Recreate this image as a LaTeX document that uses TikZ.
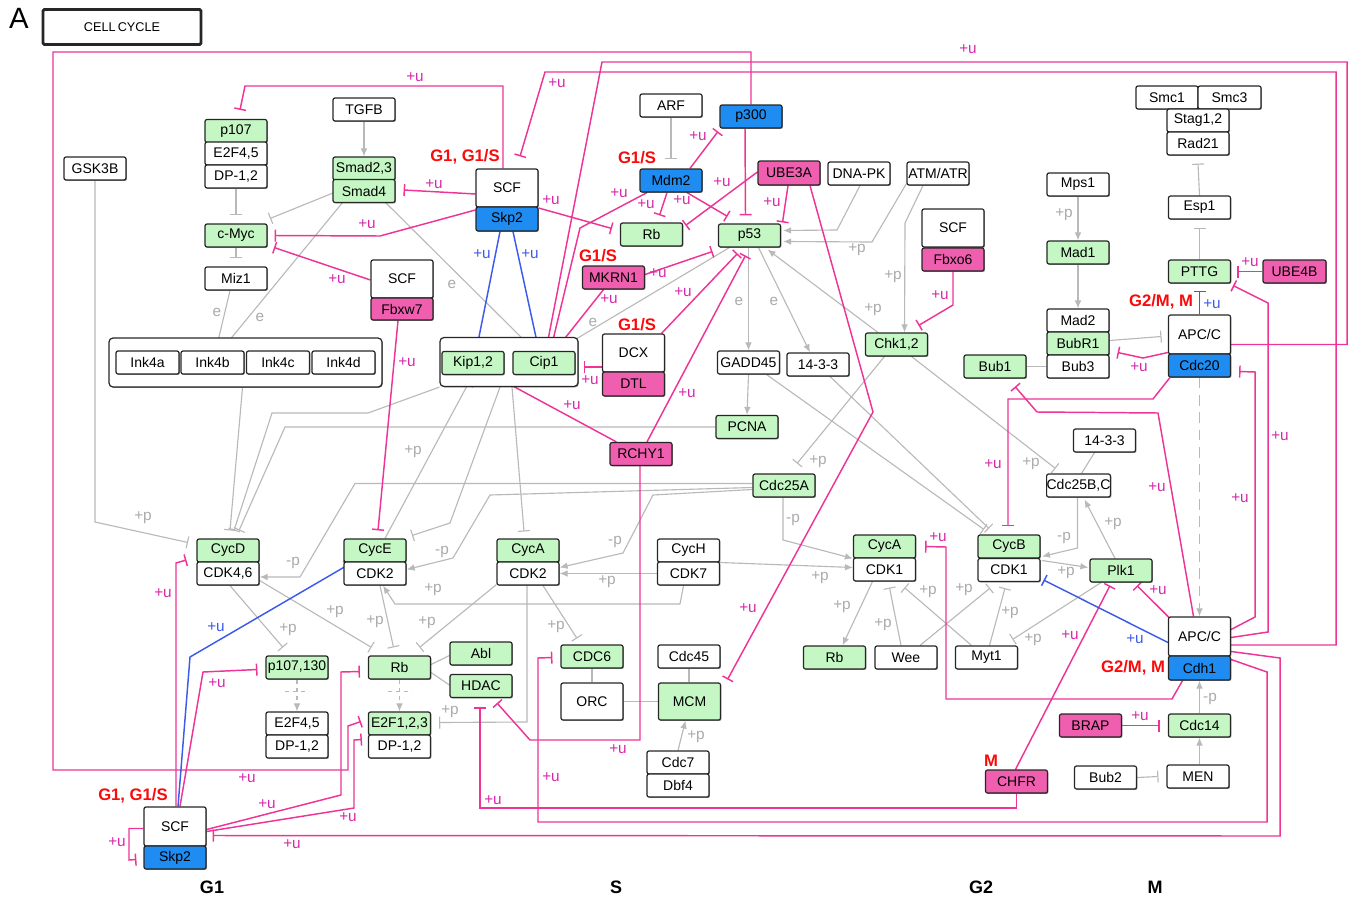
\documentclass[tikz,border=0pt]{standalone}
\usepackage{fontspec}
\setmainfont{Liberation Sans}
\usetikzlibrary{arrows.meta,calc,shadows}
\pgfdeclarelayer{bg}
\pgfsetlayers{bg,main}
\definecolor{pinkline}{RGB}{238,52,150}
\definecolor{pinktxt}{RGB}{214,40,170}
\definecolor{bluel}{RGB}{60,90,235}
\definecolor{greenf}{RGB}{196,247,196}
\definecolor{pinkf}{RGB}{240,95,175}
\definecolor{bluef}{RGB}{30,140,240}
\definecolor{grayl}{RGB}{185,185,185}
\definecolor{grayt}{RGB}{170,170,170}
\definecolor{redl}{RGB}{250,10,10}
\begin{document}
\begin{tikzpicture}[x=0.75pt,y=-0.75pt,
  bx/.style={draw=black!85, line width=0.9pt, rounded corners=1.5pt, minimum width=46.5pt, minimum height=17.25pt, inner sep=0pt, fill=white, font=\fontsize{10.5}{12}\selectfont, drop shadow={shadow xshift=0.7pt, shadow yshift=-0.7pt, opacity=0.45, fill=black}},
  gn/.style={bx, fill=greenf},
  pk/.style={bx, fill=pinkf},
  bl/.style={bx, fill=bluef},
  hh/.style={minimum height=#1*0.75pt},
  ww/.style={minimum width=#1*0.75pt},
  gl/.style={draw=grayl, line width=0.85pt},
  pl/.style={draw=pinkline, line width=1.1pt},
  bll/.style={draw=bluel, line width=1.1pt},
  tee/.style={-{Bar[width=9pt]}},
  arr/.style={-{Latex[length=6pt,width=5pt]}},
  lu/.style={text=pinktxt, font=\fontsize{11.5}{12}\selectfont, inner sep=0pt},
  lb/.style={text=bluel, font=\fontsize{11.5}{12}\selectfont, inner sep=0pt},
  lp/.style={text=grayt, font=\fontsize{11.5}{12}\selectfont, inner sep=0pt},
  rl/.style={text=redl, font=\bfseries\fontsize{12.5}{14}\selectfont, inner sep=0pt},
  ph/.style={text=black, font=\bfseries\fontsize{13.5}{15}\selectfont, inner sep=0pt}]
\useasboundingbox (0,0) rectangle (1352,899);

% title
\node[font=\fontsize{22}{24}\selectfont, inner sep=0pt] (A) at (19,18) {A};
\node[bx, line width=2.2pt, ww=158, hh=35, rounded corners=1pt, font=\fontsize{9.5}{11}\selectfont] (cc) at (122,27) {CELL\,CYCLE};

% nodes
\node[bx] (gsk) at (95,168.5) {GSK3B};
\node[gn] (p107) at (236,131) {p107};
\node[bx] (e2f45a) at (236,153.5) {E2F4,5};
\node[bx] (dp12a) at (236,176.5) {DP-1,2};
\node[bx] (tgfb) at (364,109.5) {TGFB};
\node[gn] (smad23) at (364,168.5) {Smad2,3};
\node[gn] (smad4) at (364,191) {Smad4};
\node[gn] (cmyc) at (236,235.5) {c-Myc};
\node[bx] (miz1) at (236,278.5) {Miz1};
\node[bx,hh=38] (scfw) at (402,279) {SCF};
\node[pk,hh=22] (fbxw7) at (402,309) {Fbxw7};
\node[bx,ww=273,hh=49,rounded corners=3pt] (inkgrp) at (245.5,362.5) {};
\node[bx,ww=63] (ink4a) at (147.5,362.5) {Ink4a};
\node[bx,ww=63] (ink4b) at (212.5,362.5) {Ink4b};
\node[bx,ww=63] (ink4c) at (278,362.5) {Ink4c};
\node[bx,ww=63] (ink4d) at (343.5,362.5) {Ink4d};
\node[bx,hh=38] (scf1) at (507,188) {SCF};
\node[bl,hh=24] (skp2a) at (507,219) {Skp2};
\node[bx] (arf) at (671,105.5) {ARF};
\node[bl] (p300) at (751,116.5) {p300};
\node[bl] (mdm2) at (671,180.5) {Mdm2};
\node[pk,hh=24] (ube3a) at (789,173) {UBE3A};
\node[bx] (dnapk) at (859,173.5) {DNA-PK};
\node[bx] (atm) at (938,173.5) {ATM/ATR};
\node[gn] (rbT) at (651.5,234.5) {Rb};
\node[gn] (p53) at (749.5,235.5) {p53};
\node[pk] (mkrn1) at (613.5,277.5) {MKRN1};
\node[bx,ww=138,hh=49,rounded corners=3pt] (kipgrp) at (509,362) {};
\node[gn] (kip12) at (473,363) {Kip1,2};
\node[gn] (cip1) at (544,363) {Cip1};
\node[bx,hh=38] (dcx) at (633.5,353) {DCX};
\node[pk,hh=24] (dtl) at (633.5,384) {DTL};
\node[bx] (gadd45) at (748.5,362.5) {GADD45};
\node[bx] (f1433a) at (818,364.5) {14-3-3};
\node[gn] (pcna) at (747,427) {PCNA};
\node[pk] (rchy1) at (641,454) {RCHY1};
\node[gn] (cdc25a) at (784,485.5) {Cdc25A};
\node[gn] (chk12) at (896.5,344.5) {Chk1,2};
\node[bx,hh=38] (scff) at (953,228) {SCF};
\node[pk] (fbxo6) at (953,259.5) {Fbxo6};
\node[bx] (mps1) at (1078,184.5) {Mps1};
\node[gn] (mad1) at (1078,252.5) {Mad1};
\node[bx] (mad2) at (1078,320.5) {Mad2};
\node[gn] (bubr1) at (1078,343.5) {BubR1};
\node[bx] (bub3) at (1078,366.5) {Bub3};
\node[gn] (bub1) at (995,366.5) {Bub1};
\node[bx] (smc1) at (1167,97.5) {Smc1};
\node[bx,ww=63] (smc3) at (1229.5,97.5) {Smc3};
\node[bx] (stag) at (1198,120.5) {Stag1,2};
\node[bx] (rad21) at (1198,143.5) {Rad21};
\node[bx] (esp1) at (1199.5,207.5) {Esp1};
\node[gn] (pttg) at (1199.5,271.5) {PTTG};
\node[pk,ww=63] (ube4b) at (1294.5,271.5) {UBE4B};
\node[bx,hh=39] (apc1) at (1199.5,334.5) {APC/C};
\node[bl] (cdc20) at (1199.5,365.5) {Cdc20};
\node[bx] (f1433b) at (1104.5,440.5) {14-3-3};
\node[bx] (cdc25bc) at (1078.5,485.5) {Cdc25B,C};
\node[gn] (cycB) at (1009,546.5) {CycB};
\node[bx] (cdk1b) at (1009,570) {CDK1};
\node[gn] (plk1) at (1121,570.5) {Plk1};
\node[gn] (cycAr) at (884.5,546.5) {CycA};
\node[bx] (cdk1a) at (884.5,569.5) {CDK1};
\node[gn] (rbR) at (834.5,657.5) {Rb};
\node[bx] (wee) at (906,657.5) {Wee};
\node[bx] (myt1) at (986.5,657.5) {Myt1};
\node[bx,hh=39] (apc2) at (1199.5,636.5) {APC/C};
\node[bl,hh=24] (cdh1) at (1199.5,668) {Cdh1};
\node[gn] (cdc14) at (1199.5,725.5) {Cdc14};
\node[pk] (brap) at (1090.5,725.5) {BRAP};
\node[bx] (men) at (1198,776.5) {MEN};
\node[bx] (bub2) at (1105.5,777.5) {Bub2};
\node[pk] (chfr) at (1016.5,781.5) {CHFR};
\node[gn] (cycD) at (228,550.5) {CycD};
\node[bx] (cdk46) at (228,573.5) {CDK4,6};
\node[gn] (cycE) at (375,550.5) {CycE};
\node[bx] (cdk2e) at (375,573.5) {CDK2};
\node[gn] (cycA) at (528,550.5) {CycA};
\node[bx] (cdk2a) at (528,573.5) {CDK2};
\node[bx] (cycH) at (688.5,550.5) {CycH};
\node[bx] (cdk7) at (688.5,573.5) {CDK7};
\node[gn] (p107130) at (297,667.5) {p107,130};
\node[bx] (e2f45b) at (297,723.5) {E2F4,5};
\node[bx] (dp12b) at (297,746.5) {DP-1,2};
\node[gn] (rbM) at (399.5,667.5) {Rb};
\node[gn] (e2f123) at (399.5,723.5) {E2F1,2,3};
\node[bx] (dp12c) at (399.5,746.5) {DP-1,2};
\node[gn] (abl) at (481,653.5) {Abl};
\node[gn] (hdac) at (481,686) {HDAC};
\node[gn] (cdc6) at (592,656.5) {CDC6};
\node[bx,hh=37] (orc) at (592,701.5) {ORC};
\node[bx] (cdc45) at (689,656.5) {Cdc45};
\node[gn,hh=37] (mcm) at (689.5,701.5) {MCM};
\node[bx] (cdc7) at (678,762.5) {Cdc7};
\node[bx] (dbf4) at (678,785.5) {Dbf4};
\node[bx,hh=39] (scf2) at (175,826.5) {SCF};
\node[bl] (skp2b) at (175,857.5) {Skp2};

\begin{pgfonlayer}{bg}
% gray edges
\draw[gl,arr] (tgfb.south) -- (smad23.north);
\draw[gl,tee] (dp12a.south) -- ($(cmyc.north)+(0,-8)$);
\draw[gl,tee] (cmyc.south) -- ($(miz1.north)+(0,-8)$);
\draw[gl,tee] ($(smad4)+(-31,2)$) -- ($(cmyc)+(34,-17)$);
\draw[gl,arr] ($(miz1)+(-6,12)$) -- ($(ink4b)+(4,-15)$);
\draw[gl,arr] ($(smad4)+(-21,11)$) -- ($(ink4b)+(11,-15)$);
\draw[gl,arr] ($(smad4)+(21,11)$) -- ($(cip1)+(-14,-17)$);
\draw[gl,tee] (gsk.south) -- (95,522) -- ($(cycD)+(-40,-8)$);
\draw[gl,tee] ($(inkgrp.south)+(-3,0)$) -- ($(cycD)+(2,-20)$);
\draw[gl,tee] (kipgrp.south west) -- (368,413) -- (272,413) -- ($(cycD)+(6,-20)$);
\draw[gl,tee] (pcna.west) -- (285,427) -- ($(cycD)+(11,-20)$);
\draw[gl,arr] ($(cdc25a.west)+(0,-2)$) -- (355,483.5) -- (300,577) -- ($(cdk46.east)+(0,3.5)$);
\draw[gl,arr] ($(cdc25a.west)+(0,2)$) -- (490,495) -- (453,558) -- ($(cdk2e.east)+(0,-4)$);
\draw[gl,arr] ($(cdc25a.west)+(0,4)$) -- (653,495) -- (623,553) -- ($(cdk2a.east)+(0,-6)$);
\draw[gl,arr] ($(cdc25a.south)+(-1,0)$) -- (783,540) -- ($(cdk1a.west)+(0,-11)$);
\draw[gl,arr] ($(cdk7.east)+(0,-11)$) -- ($(cdk1a.west)+(0,-2)$);
\draw[gl,arr] (cdk7.west) -- (cdk2a.east);
\draw[gl,arr] ($(cdk7.south)+(-5,0)$) -- (680,604) -- (395,604) -- ($(cdk2e.south)+(8,0)$);
\draw[gl,tee] ($(cdk2e.south)+(5,0)$) -- ($(rbM.north)+(-6,-8)$);
\draw[gl,tee] ($(cdk46.east)+(0,7)$) -- ($(rbM.north)+(-28,-8)$);
\draw[gl,tee] ($(cdk46.south)+(2,0)$) -- ($(p107130.north)+(-14,-8)$);
\draw[gl,tee] ($(cdk2a.south west)+(0,-1)$) -- ($(rbM.north)+(20,-8)$);
\draw[gl,tee] ($(cdk2a.south)+(15,0)$) -- ($(cdc6.north)+(-15,-6)$);
\draw[gl,tee] ($(cdk2a.south)+(-1,0)$) -- (527,722) -- ($(e2f123.east)+(8,-1)$);
\draw[gl,arr,dashed] (rbM.south) -- (e2f123.north);
\draw[gl,dashed] ($(rbM.south)+(-12,12)$) -- ($(rbM.south)+(12,12)$);
\draw[gl,arr,dashed] (p107130.south) -- (e2f45b.north);
\draw[gl,dashed] ($(p107130.south)+(-12,12)$) -- ($(p107130.south)+(12,12)$);
\draw[gl] ($(rbM.east)+(0,-3)$) -- ($(abl.west)+(0,2)$);
\draw[gl] ($(rbM.east)+(0,5)$) -- ($(hdac.west)+(0,-1)$);
\draw[gl] (cdc6.south) -- (orc.north);
\draw[gl] (orc.east) -- (mcm.west);
\draw[gl] (cdc45.south) -- ($(mcm.north)+(-0.5,0)$);
\draw[gl,arr] (cdc7.north) -- ($(mcm.south)+(-4,0)$);
\draw[gl,tee] ($(kipgrp.south)+(3,0)$) -- ($(cycA)+(-4,-19)$);
\draw[gl,tee] ($(kipgrp.south)+(-9,0)$) -- (450,523) -- ($(cycE)+(37,-15)$);
\draw[gl,tee] ($(cycE.north)+(10,0)$) -- ($(kipgrp.south)+(-41,-3)$);
\draw[gl,arr] ($(p53.south)+(-1,0)$) -- (gadd45.north);
\draw[gl,arr] ($(p53.south)+(9,0)$) -- ($(f1433a.north)+(-8,0)$);
\draw[gl,arr] ($(p53)+(-20,12)$) -- ($(cip1)+(22,-18)$);
\draw[gl,arr] (gadd45.south) -- (pcna.north);
\draw[gl,tee] ($(gadd45)+(18,12)$) -- ($(cycB)+(-25,-17)$);
\draw[gl,tee] ($(f1433a)+(12,12)$) -- ($(cycB)+(-20,-18)$);
\draw[gl,tee] ($(chk12)+(-12,12)$) -- ($(cdc25a)+(13,-22)$);
\draw[gl,tee] ($(chk12)+(15,12)$) -- ($(cdc25bc)+(-23,-17)$);
\draw[gl] ($(f1433b)+(-10,12)$) -- ($(cdc25bc)+(3,-12)$);
\draw[gl,arr] ($(cdc25bc.south)+(-1,0)$) -- (1077.5,548) -- ($(cycB)+(33,10)$);
\draw[gl,arr] ($(cycB)+(33,14)$) -- ($(plk1.west)+(-1,-3)$);
\draw[gl,arr] ($(plk1.north)+(-6,0)$) -- ($(cdc25bc)+(6,14)$);
\draw[gl,arr] ($(cdk1a.south)+(-12,0)$) -- ($(rbR.north)+(8,0)$);
\draw[gl,tee] ($(wee.north)+(-5,0)$) -- ($(cdk1a.south)+(5,6)$);
\draw[gl,tee] ($(wee.north)+(14,0)$) -- ($(cdk1b.south)+(-19,6)$);
\draw[gl,tee] ($(myt1.north)+(-15,0)$) -- ($(cdk1a.south)+(20,6)$);
\draw[gl,tee] ($(myt1.north)+(3,0)$) -- ($(cdk1b.south)+(-4,6)$);
\draw[gl,tee] ($(plk1.south)+(-20,0)$) -- ($(myt1)+(26,-18)$);
\draw[gl] (bub1.east) -- (bub3.west);
\draw[gl,tee] ($(bubr1.east)+(0,-3)$) -- ($(apc1)+(-38,2)$);
\draw[gl,arr] (mps1.south) -- (mad1.north);
\draw[gl,arr] (mad1.south) -- (mad2.north);
\draw[gl,tee] (pttg.north) -- ($(esp1.south)+(0,8)$);
\draw[gl,tee] (esp1.north) -- ($(rad21.south)+(0,8)$);
\draw[gl,arr,dash pattern=on 8pt off 5pt] (cdc20.south) -- (apc2.north);
\draw[gl,arr] (cdc14.north) -- (cdh1.south);
\draw[gl,arr] ($(men.north)+(1.5,0)$) -- (cdc14.south);
\draw[gl,tee] (bub2.east) -- ($(men.west)+(-8,0)$);
\draw[gl,tee] (arf.south) -- ($(mdm2.north)+(0,-9)$);
\draw[gl,arr] ($(dnapk.south)+(1,0)$) -- (837,230) -- ($(p53.east)+(2,-5)$);
\draw[gl,arr] ($(atm.south west)+(0,-2)$) -- (872,242) -- ($(p53.east)+(2,6)$);
\draw[gl,arr] ($(atm)+(-15,12)$) -- (905,223) -- ($(chk12.north)+(8,0)$);
\draw[gl,arr] ($(chk12.north west)+(13,0)$) -- ($(p53)+(18,14)$);

% pink / blue edges
\draw[pl,tee] (p300.north) -- (751,52) -- (53,52) -- (53,770) -- (348,770) -- (348,726) -- ($(e2f123.west)+(-7,-2)$);
\draw[pl,tee] ($(apc1.east)+(0,10)$) -- (1347,344.5) -- (1347,62) -- (602,62) -- ($(cip1.north)+(4,-11)$);
\draw[pl,tee] ($(apc2.east)+(0,8.5)$) -- (1336,645) -- (1336,72) -- (545,72) -- ($(scf1.north)+(13,-12)$);
\draw[pl,tee] ($(scf1.north)+(-4,0)$) -- (503,86) -- (245,86) -- ($(p107.north)+(4,-9)$);
\draw[pl,tee] ($(scf1.west)+(0,6)$) -- ($(smad4.east)+(8,-1)$);
\draw[pl,tee] ($(scf1.west)+(0,22)$) -- (380,236) -- ($(cmyc.east)+(7,0)$);
\draw[pl,tee] ($(scfw.west)+(0,1)$) -- ($(cmyc)+(38,12)$);
\draw[pl,tee] ($(scf1.east)+(0,20)$) -- ($(rbT.west)+(-8,-6)$);
\draw[bll,tee] ($(skp2a.south)+(-7,0)$) -- ($(kip12.north)+(5,-9)$);
\draw[bll,tee] ($(skp2a.south)+(6,0)$) -- ($(cip1.north)+(-7,-9)$);
\draw[pl,tee] ($(mdm2.south)+(-24,0)$) -- (580,228) -- ($(cip1.north)+(9,-11)$);
\draw[pl,tee] ($(mdm2.south)+(-4,0)$) -- ($(rbT.north)+(8,-7)$);
\draw[pl,tee] ($(mdm2.south)+(16,0)$) -- ($(p53.north)+(-22,-7)$);
\draw[pl,tee] ($(mdm2.north)+(19,0)$) -- ($(p300)+(-33,15)$);
\draw[pl,tee] ($(ube3a.west)+(0,-1)$) -- ($(rbT)+(34,-9)$);
\draw[pl,tee] ($(ube3a.south)+(-1,0)$) -- ($(p53)+(33,-13)$);
\draw[pl,tee] ($(p300.south)+(-6,0)$) -- ($(p53.north)+(-4,-8)$);
\draw[pl,tee] ($(mkrn1.east)+(0,-3)$) -- ($(p53)+(-37,16)$);
\draw[pl,tee] ($(mkrn1.south)+(-10,0)$) -- ($(cip1.north)+(18,-9)$);
\draw[pl,tee] ($(dcx.north)+(28,0)$) -- ($(p53)+(-12,18)$);
\draw[pl,tee] ($(dcx.west)+(0,14)$) -- ($(cip1.east)+(8,4)$);
\draw[pl,tee] ($(rchy1.north)+(6,0)$) -- ($(p53)+(-4,20)$);
\draw[pl,tee] ($(rchy1.north west)+(7,0)$) -- ($(kip12.south)+(27,4)$);
\draw[pl,tee] ($(rchy1.south)+(-1,0)$) -- (640,740) -- (530,740) -- ($(hdac)+(16,17)$);
\draw[pl,tee] ($(ube3a.south)+(21,0)$) -- (873,412) -- ($(mcm)+(38,-22)$);
\draw[pl,tee] (fbxo6.south) -- (953,305) -- ($(chk12)+(22,-19)$);
\draw[pl,tee] ($(fbxw7.south)+(-4,0)$) -- ($(cycE.north)+(3,-8)$);
\draw[pl,tee] ($(scf2.north)+(1,0)$) -- (176,563) -- ($(cycD.west)+(-10,9.5)$);
\draw[bll,tee] ($(scf2.north)+(3,0)$) -- (190,657) -- ($(cdk2e)+(-28,-8)$);
\draw[pl,tee] ($(scf2.north)+(5,0)$) -- (203,672) -- ($(p107130.west)+(-8,2)$);
\draw[pl,tee] ($(scf2.east)+(0,3)$) -- (341,795) -- (341,672) -- ($(rbM.west)+(-8,4)$);
\draw[pl,tee] ($(scf2.east)+(0,5)$) -- (354,808) -- (354,740) -- ($(dp12c.west)+(-6,-7)$);
\draw[pl,tee] ($(apc2.east)+(0,15)$) -- (1280,658) -- (1280,836) -- ($(scf2.east)+(6,9)$);
\draw[pl,tee] ($(scf2.west)+(0,2)$) -- (129,828.5) -- (129,860) -- ($(skp2b.west)+(-7,2)$);
\draw[pl,tee] ($(apc2.east)+(0,23)$) -- (1267,672) -- (1267,822) -- (538,822) -- (538,658) -- ($(cdc6.west)+(-8,1)$);
\draw[pl,tee] (chfr.south) -- (1016.5,808) -- (480,808) -- ($(hdac.south)+(-1,9)$);
\draw[pl,tee] ($(chfr.north)+(-1,0)$) -- ($(plk1.south)+(-11,3)$);
\draw[pl,tee] ($(cdh1.south)+(-17,0)$) -- (1172,699) -- (946,699) -- (946,547) -- ($(cycAr.east)+(9,0)$);
\draw[pl,tee] ($(apc2.north west)+(2,2)$) -- ($(plk1.south)+(16,3)$);
\draw[bll,tee] ($(apc2.west)+(0,6)$) -- ($(cdk1b.east)+(3,10)$);
\draw[pl,tee] ($(apc2.north)+(-6,0)$) -- (1158,413) -- (1037,412) -- ($(bub1.south)+(20,8)$);
\draw[pl,tee] ($(cdc20.south west)+(2,0)$) -- (1153,399) -- (1008,399) -- ($(cycB.north)+(-1,-8)$);
\draw[pl,tee] ($(apc1.west)+(0,18)$) -- (1143,358) -- ($(bubr1.east)+(8,9)$);
\draw[bll,tee] (apc1.north) -- ($(pttg.south)+(0,7)$);
\draw[pl,tee] (ube4b.west) -- ($(pttg.east)+(6,0)$);
\draw[pl,tee] ($(apc2.east)+(0,1)$) -- (1268,632) -- (1268,303) -- ($(pttg.east)+(2,14)$);
\draw[pl,tee] ($(apc2.east)+(0,-7)$) -- (1255,617) -- (1255,372) -- ($(cdc20.east)+(8,6)$);
\draw[pl,tee] (brap.east) -- ($(cdc14.west)+(-8,0)$);
\end{pgfonlayer}

% labels
\foreach \x/\y [count=\i] in {968/49,557/83,415/77,434/184,367/224,337/279,551/200,619/193,646/204,682/200,698/136,722/182,772/202,658/273,609/299,683/292,590/380,687/393,572/405,618/749,748/608,940/295,407/362,163/593,217/683,267/804,348/817,292/844,117/842,551/777,493/800,1070/635,938/537,1158/590,1157/487,993/464,1139/367,1250/262,1280/436,1240/498,247/778,1140/716}
  \node[lu] (u\i) at (\x,\y) {+u};
\foreach \x/\y [count=\i] in {482/254,530/254,216/627,1135/639,1212/304}
  \node[lb] (b\i) at (\x,\y) {+u};
\foreach \x/\y [count=\i] in {143/518,413/452,818/462,1031/464,857/250,893/277,873/310,1064/215,335/612,288/630,375/622,433/590,427/623,556/627,450/712,607/582,820/578,696/737,842/607,883/625,928/592,964/590,1010/613,1033/640,1066/573,1113/524}
  \node[lp] (p\i) at (\x,\y) {+p};
\foreach \x/\y [count=\i] in {293/563,442/552,615/542,793/520,1064/538,1210/699}
  \node[lp] (m\i) at (\x,\y) {-p};
\foreach \x/\y [count=\i] in {217/312,260/317,452/284,593/322,739/301,774/301}
  \node[lp] (e\i) at (\x,\y) {e};

\node[rl] (r1) at (465,157) {G1, G1/S};
\node[rl] (r2) at (133,796) {G1, G1/S};
\node[rl] (r3) at (637,158) {G1/S};
\node[rl] (r4) at (598,256) {G1/S};
\node[rl] (r5) at (637,325) {G1/S};
\node[rl] (r6) at (1161,302) {G2/M, M};
\node[rl] (r7) at (1133,668) {G2/M, M};
\node[rl] (r8) at (991,761) {M};

\node[ph] (g1) at (212,887) {G1};
\node[ph] (s) at (616,887) {S};
\node[ph] (g2) at (981,887) {G2};
\node[ph] (mm) at (1155,887) {M};
\end{tikzpicture}
\end{document}
